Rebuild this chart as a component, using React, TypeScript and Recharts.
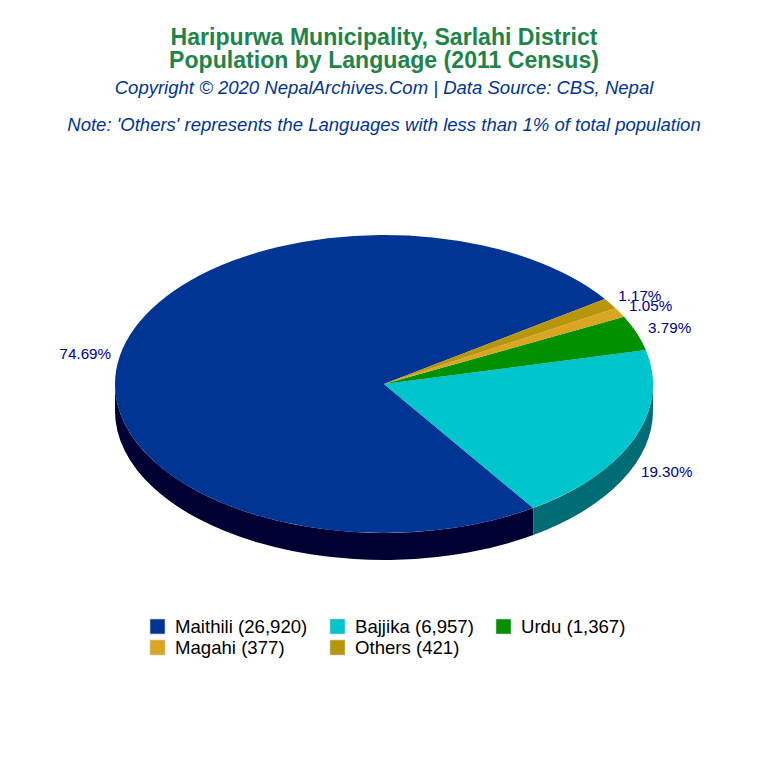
import { Legend, Pie, PieChart } from 'recharts';

const languages = ['Maithili', 'Bajjika', 'Urdu', 'Magahi', 'Others'];
const speakers = [26920, 6957, 1367, 377, 421];
const topColors = ['#003594', '#00C5CD', '#009000', '#DAA520', '#B8960C'];
const wallColors = ['#000033', '#006C75', '#004800', '#6E5210', '#5C4B06'];

const titleLines = ['Haripurwa Municipality, Sarlahi District', 'Population by Language (2011 Census)'];
const subtitle = 'Copyright © 2020 NepalArchives.Com | Data Source: CBS, Nepal';
const note = "Note: 'Others' represents the Languages with less than 1% of total population";

const squash = 149 / 269;
const depth = 27;
const rad = Math.PI / 180;

const topData = languages.map((name, i) => ({ name, value: speakers[i], fill: topColors[i] }));
const wallData = languages.map((name, i) => ({ name, value: speakers[i], fill: wallColors[i] }));

const pointAt = (cx: number, cy: number, r: number, angle: number) => ({
  x: cx + r * Math.cos(angle * rad),
  y: cy - r * squash * Math.sin(angle * rad),
});

// flat sector squashed into an ellipse
const TopSlice = ({ cx, cy, outerRadius, startAngle, endAngle, fill }: any) => {
  const a = pointAt(cx, cy, outerRadius, startAngle);
  const b = pointAt(cx, cy, outerRadius, endAngle);
  const large = Math.abs(endAngle - startAngle) > 180 ? 1 : 0;
  const d = `M${cx},${cy} L${a.x},${a.y} A${outerRadius},${outerRadius * squash} 0 ${large} 0 ${b.x},${b.y} Z`;
  return <path d={d} fill={fill} stroke="none" />;
};

// side of the disc, only the front half (180-360 degrees) can be seen
const WallSlice = ({ cx, cy, outerRadius, startAngle, endAngle, fill }: any) => {
  const from = Math.max(startAngle, 180);
  const to = Math.min(endAngle, 360);
  if (to <= from) return null;
  const a = pointAt(cx, cy, outerRadius, from);
  const b = pointAt(cx, cy, outerRadius, to);
  const ry = outerRadius * squash;
  const large = to - from > 180 ? 1 : 0;
  const d = `M${a.x},${a.y} A${outerRadius},${ry} 0 ${large} 0 ${b.x},${b.y} L${b.x},${b.y + depth} A${outerRadius},${ry} 0 ${large} 1 ${a.x},${a.y + depth} Z`;
  return <path d={d} fill={fill} stroke="none" />;
};

const renderPercent = ({ cx, cy, midAngle, percent }: any) => {
  const sin = Math.sin(midAngle * rad);
  const x = cx + 304 * Math.cos(midAngle * rad);
  const y = cy - 164 * sin + (sin < 0 ? depth : 0);
  return (
    <text x={x} y={y} fill="#00008B" fontSize={15.2} textAnchor="middle" dominantBaseline="central">
      {(percent * 100).toFixed(2)}%
    </text>
  );
};

const legendColumns = [150, 330, 496];
const renderLegend = () => (
  <svg width={768} height={70} style={{ display: 'block' }}>
    {topData.map((entry, i) => {
      const x = legendColumns[i % 3];
      const y = 8 + Math.floor(i / 3) * 21;
      return (
        <g key={entry.name}>
          <rect x={x} y={y} width={15} height={15} fill={entry.fill} stroke="#cfcfcf" strokeWidth={0.6} />
          <text x={x + 25} y={y + 7.5} fontSize={18.6} fill="#000" dominantBaseline="central">
            {entry.name} ({entry.value.toLocaleString('en-US')})
          </text>
        </g>
      );
    })}
  </svg>
);

export default function App() {
  return (
    <div style={{ position: 'absolute', left: 0, top: 0, width: 768, height: 768, background: '#fff', fontFamily: '"Liberation Sans", Arial, sans-serif' }}>
      <PieChart width={768} height={768} margin={{ top: 0, right: 0, bottom: 0, left: 0 }}>
        <Pie
          data={wallData}
          dataKey="value"
          nameKey="name"
          cx={384}
          cy={384}
          outerRadius={269}
          startAngle={34.8}
          endAngle={394.8}
          paddingAngle={0}
          shape={WallSlice}
          legendType="none"
          isAnimationActive={false}
        />
        <Pie
          data={topData}
          dataKey="value"
          nameKey="name"
          cx={384}
          cy={384}
          outerRadius={269}
          startAngle={34.8}
          endAngle={394.8}
          paddingAngle={0}
          shape={TopSlice}
          label={renderPercent}
          labelLine={false}
          isAnimationActive={false}
        />
        <Legend content={renderLegend} wrapperStyle={{ left: 0, top: 611, width: 768 }} />
        <text x={384} y={37} textAnchor="middle" dominantBaseline="central" fontSize={23.1} fontWeight="bold" fill="#1E8449">{titleLines[0]}</text>
        <text x={384} y={60} textAnchor="middle" dominantBaseline="central" fontSize={23.1} fontWeight="bold" fill="#1E8449">{titleLines[1]}</text>
        <text x={384} y={87} textAnchor="middle" dominantBaseline="central" fontSize={18.55} fontStyle="italic" fill="#003594">{subtitle}</text>
        <text x={384} y={124} textAnchor="middle" dominantBaseline="central" fontSize={18.55} fontStyle="italic" fill="#003594">{note}</text>
      </PieChart>
    </div>
  );
}
